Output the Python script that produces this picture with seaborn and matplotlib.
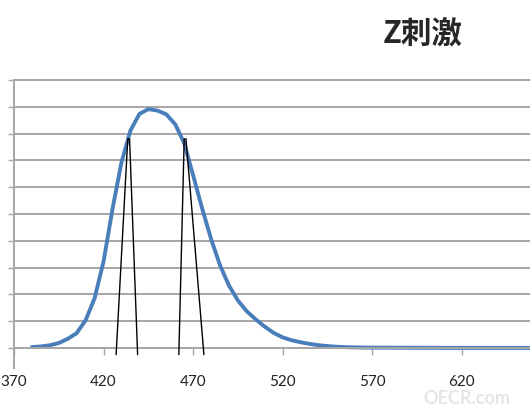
import numpy as np
import pandas as pd
import matplotlib
matplotlib.use("Agg")
import matplotlib.pyplot as plt
import seaborn as sns

# z stimulus curve, 5 nm steps
wavelength = list(range(380, 665, 5))
z_value = [0.0065, 0.0106, 0.0201, 0.0362, 0.0679, 0.1102, 0.2074, 0.3713,
           0.6456, 1.0391, 1.3856, 1.6230, 1.7471, 1.7826, 1.7721, 1.7441,
           1.6692, 1.5281, 1.2876, 1.0419, 0.8130, 0.6162, 0.4652, 0.3533,
           0.2720, 0.2123, 0.1582, 0.1117, 0.0783, 0.0573, 0.0422, 0.0298,
           0.0203, 0.0134, 0.0088, 0.0058, 0.0039, 0.0028, 0.0021, 0.0018,
           0.0017, 0.0014, 0.0011, 0.0010, 0.0008, 0.0006, 0.0003, 0.0002,
           0.0002, 0.0001, 0.0001, 0.0, 0.0, 0.0, 0.0, 0.0, 0.0]

# two narrow filter peaks (black)
peak1_x = [427, 433.5, 434.5, 439]
peak1_y = [-0.05, 1.56, 1.56, -0.05]
peak2_x = [462, 465, 466, 476]
peak2_y = [-0.05, 1.56, 1.56, -0.05]

xticks = [370, 420, 470, 520, 570, 620, 670]
yticks = [0.0, 0.2, 0.4, 0.6, 0.8, 1.0, 1.2, 1.4, 1.6, 1.8, 2.0]

sns.set_theme(style="white")
plt.rcParams['font.family'] = ['Lato', 'DejaVu Sans']

df = pd.DataFrame({"wl": wavelength, "z": z_value})
p1 = pd.DataFrame({"x": peak1_x, "y": peak1_y})
p2 = pd.DataFrame({"x": peak2_x, "y": peak2_y})

fig = plt.figure(figsize=(5.3, 4.1), dpi=100)
ax = fig.add_axes([0.0264, 0.1, 0.9736, 0.7024])

for y in yticks:
    ax.axhline(y, color="#a6a6a6", lw=1.4, zorder=1)

sns.lineplot(data=p1, x="x", y="y", ax=ax, color="black", lw=1.0,
             sort=False, estimator=None, zorder=3)
sns.lineplot(data=p2, x="x", y="y", ax=ax, color="black", lw=1.0,
             sort=False, estimator=None, zorder=3)
sns.lineplot(data=df, x="wl", y="z", ax=ax, color="#4a7ebb", lw=2.8,
             zorder=2)
for l in ax.lines:
    l.set_clip_on(False)
    l.set_solid_joinstyle("round")

ax.set_xlim(370, 658)
ax.set_ylim(-0.15, 2.0)
ax.set_xticks(xticks[:-1])
ax.set_yticks(yticks)
ax.set_yticklabels([])
ax.set_xlabel("")
ax.set_ylabel("")

for s in ["top", "right"]:
    ax.spines[s].set_visible(False)
ax.spines["left"].set_color("#a6a6a6")
ax.spines["left"].set_linewidth(1.4)
ax.spines["bottom"].set_position(("data", 0))
ax.spines["bottom"].set_color("#a6a6a6")
ax.spines["bottom"].set_linewidth(1.4)
ax.tick_params(axis="x", direction="out", length=5, width=1, color="#a6a6a6",
               labelsize=11, pad=14, bottom=True, labelcolor="#222222")
ax.tick_params(axis="y", direction="out", length=4, width=1, color="#a6a6a6",
               left=True)

fig.text(0.797, 0.915, "Z刺激", ha="center", va="center", fontsize=22,
         fontweight="bold", family=['Noto Sans CJK SC', 'DejaVu Sans'])
fig.text(0.88, 0.028, "OECR.com", ha="center", va="center", fontsize=13,
         fontweight="bold", color="#e6e6e6")

fig.savefig("out.png", dpi=100)
